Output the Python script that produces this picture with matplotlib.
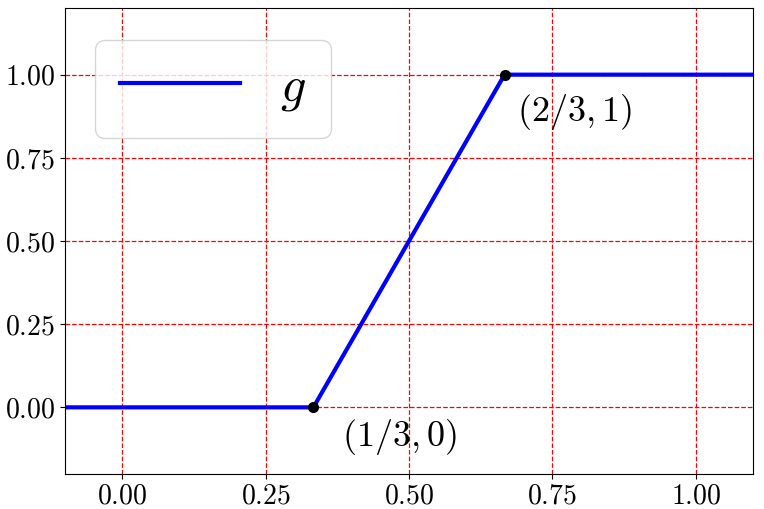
import matplotlib
matplotlib.use('Agg')
import matplotlib.pyplot as plt

plt.rcParams['mathtext.fontset'] = 'cm'
plt.rcParams['font.family'] = 'serif'
plt.rcParams['font.serif'] = ['cmr10']
plt.rcParams['axes.formatter.use_mathtext'] = True

# 分段函数 g 的折点
x_vals = [-0.1, 1/3, 2/3, 1.1]
y_vals = [0.0, 0.0, 1.0, 1.0]
pt_x = [1/3, 2/3]
pt_y = [0.0, 1.0]
pt_labels = [r'$(1/3,0)$', r'$(2/3,1)$']
xticks = [0.0, 0.25, 0.5, 0.75, 1.0]
yticks = [0.0, 0.25, 0.5, 0.75, 1.0]

fig = plt.figure(figsize=(7.64, 5.09), dpi=100)
ax = fig.add_axes([0.085, 0.069, 0.9006, 0.915])

ax.plot(x_vals, y_vals, color='blue', lw=3, label=r'$g$')
ax.plot(pt_x, pt_y, 'o', color='black', ms=7, zorder=5)
# 标注位置（数据坐标偏移）
offsets = [(0.05, -0.088), (0.022, -0.112)]
for px, py, lab, (dx, dy) in zip(pt_x, pt_y, pt_labels, offsets):
    ax.text(px + dx, py + dy, lab, fontsize=26, ha='left', va='center')

ax.set_xlim(-0.1, 1.1)
ax.set_ylim(-0.2, 1.2)
ax.set_xticks(xticks)
ax.set_yticks(yticks)
ax.set_xticklabels([f'${t:.2f}$' for t in xticks])
ax.set_yticklabels([f'${t:.2f}$' for t in yticks])
ax.tick_params(labelsize=20)
ax.grid(True, color='red', linestyle='--', lw=0.9)

ax.legend(loc='upper left', fontsize=36, handlelength=2.4, borderpad=0.5,
          bbox_to_anchor=(0.007, 0.985))

fig.savefig('out.png', dpi=100)
